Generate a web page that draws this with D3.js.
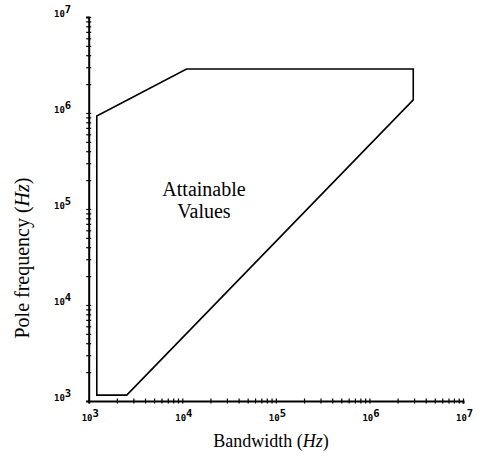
<!DOCTYPE html>
<html>
<head>
<meta charset="utf-8">
<script src="https://cdn.jsdelivr.net/npm/d3@7"></script>
<style>
  body { margin: 0; background: #fff; }
  text { fill: #000; }
</style>
</head>
<body>
<script>
// region boundary (bandwidth Hz, pole frequency Hz)
const bandwidth = [1220, 1220, 11100, 2940000, 2940000, 2550];
const poleFreq  = [1150, 930000, 2870000, 2870000, 1370000, 1150];
const decades = [3, 4, 5, 6, 7];
const regionLabel = ['Attainable', 'Values'];

const W = 482, H = 462;
const svg = d3.select('body').append('svg').attr('width', W).attr('height', H);

const x = d3.scaleLog().domain([1e3, 1e7]).range([88.7, 463]);
const y = d3.scaleLog().domain([1e3, 1e7]).range([401, 17]);

// minor + major ticks, every 1..9 x 10^k
let tickVals = [];
decades.slice(0, -1).forEach((k) => {
	for (let m = 1; m < 10; m++) tickVals.push(m * Math.pow(10, k));
});
tickVals.push(1e7);

const xAxis = svg.append('g').attr('transform', 'translate(0,401)')
	.call(d3.axisBottom(x).tickValues(tickVals).tickSize(2.5).tickFormat(''));
xAxis.selectAll('.tick line').attr('y1', -2.5);

const yAxis = svg.append('g').attr('transform', 'translate(88.7,0)')
	.call(d3.axisLeft(y).tickValues(tickVals).tickSize(2.5).tickFormat(''));
yAxis.selectAll('.tick line').attr('x1', 2.5);

[xAxis, yAxis].forEach((g) => {
	g.select('.domain').attr('stroke-width', 2).attr('stroke', '#000');
	g.selectAll('.tick line').attr('stroke', '#000').attr('stroke-width', 1.2);
});

// tick labels 10^k
const labFont = '"DejaVu Sans Mono", monospace';
function powerLabel(sel) {
	sel.attr('font-family', labFont).attr('font-weight', 'bold').attr('font-size', 9);
	sel.append('tspan').text('10');
	sel.append('tspan').attr('dy', -4).attr('font-size', 10.5).text((d) => d);
}
svg.selectAll('text.xl').data(decades).enter().append('text')
	.attr('class', 'xl')
	.attr('x', (d) => x(Math.pow(10, d)) - 7)
	.attr('y', 421)
	.call(powerLabel);
svg.selectAll('text.yl').data(decades).enter().append('text')
	.attr('class', 'yl')
	.attr('x', 54)
	.attr('y', (d) => y(Math.pow(10, d)))
	.call(powerLabel);

// region outline
const pts = bandwidth.map((b, i) => [x(b), y(poleFreq[i])]);
svg.append('path')
	.attr('d', d3.line()(pts) + 'Z')
	.attr('fill', 'none')
	.attr('stroke', '#000')
	.attr('stroke-width', 1.6);

const serif = '"Liberation Serif", "DejaVu Serif", serif';
svg.selectAll('text.region').data(regionLabel).enter().append('text')
	.attr('class', 'region')
	.attr('text-anchor', 'middle')
	.attr('font-family', serif).attr('font-size', 20)
	.attr('x', 204)
	.attr('y', (d, i) => 196 + i * 22)
	.text((d) => d);

// axis titles
const xt = svg.append('text')
	.attr('x', 271).attr('y', 447)
	.attr('text-anchor', 'middle')
	.attr('font-family', serif).attr('font-size', 18);
xt.append('tspan').text('Bandwidth (');
xt.append('tspan').attr('font-style', 'italic').text('Hz');
xt.append('tspan').text(')');

const yt = svg.append('text')
	.attr('transform', 'translate(29,258) rotate(-90)')
	.attr('text-anchor', 'middle')
	.attr('font-family', serif).attr('font-size', 20);
yt.append('tspan').text('Pole frequency (');
yt.append('tspan').attr('font-style', 'italic').text('Hz');
yt.append('tspan').text(')');
</script>
</body>
</html>
